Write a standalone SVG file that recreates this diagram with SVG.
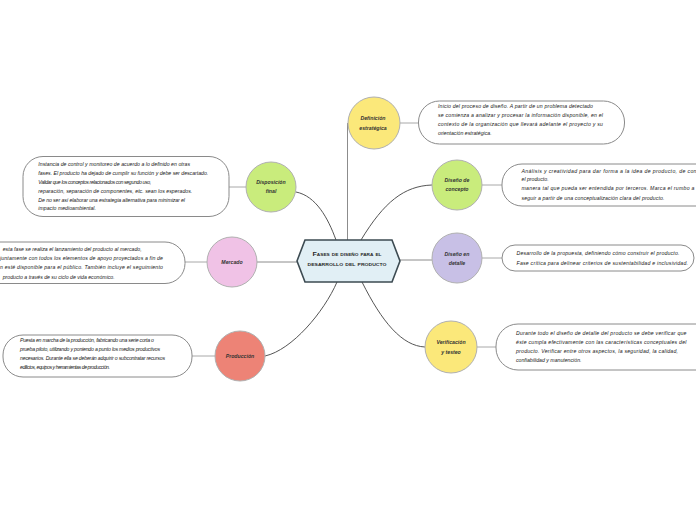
<svg xmlns="http://www.w3.org/2000/svg" width="696" height="520" viewBox="0 0 696 520">
<style>
.bg{fill:#ffffff}
.box{fill:#ffffff;stroke:#8a8a8a;stroke-width:1}
.circ{stroke:#b0b0b0;stroke-width:1}
.yellow{fill:#fbe87a}
.green{fill:#c9ec7c}
.lav{fill:#c8c0e6}
.pink{fill:#f0c2e6}
.salmon{fill:#ed8376}
.hex{fill:#e1eff5;stroke:#3d4b52;stroke-width:1.6}
.link{fill:none;stroke:#555;stroke-width:1}
.slink{fill:none;stroke:#8c8c8c;stroke-width:1}
.blink{fill:none;stroke:#a8a8a8;stroke-width:1}
.t{font-family:"Liberation Sans",Arial,sans-serif;font-style:italic;font-size:5.2px;fill:#1a1a1a}
.lbl{font-family:"Liberation Sans",Arial,sans-serif;font-style:italic;font-weight:bold;font-size:5.2px;fill:#333;text-anchor:middle}
.title{font-family:"Liberation Sans",Arial,sans-serif;font-variant:small-caps;font-weight:bold;font-size:6px;fill:#2a2a2a;text-anchor:middle}
</style>
<rect class="bg" x="0" y="0" width="696" height="520"/>
<g id="connectors">
<path class="slink" d="M347.5,240 V123"/>
<path class="link" d="M361,240 C384,202 404,186 432,185"/>
<path class="slink" d="M400,260 H432"/>
<path class="link" d="M362,282 C382,322 402,346 425,347"/>
<path class="link" d="M296,192 C316,196 328,218 336,240"/>
<path class="slink" d="M257,262 H297"/>
<path class="link" d="M265,356 C292,350 324,312 337,282"/>
<path class="blink" d="M400,123 H419"/>
<path class="blink" d="M482,185 H502"/>
<path class="blink" d="M482,258 H502"/>
<path class="blink" d="M477,347 H496"/>
<path class="blink" d="M246,187 H229"/>
<path class="blink" d="M207,262 H185"/>
<path class="blink" d="M215,356 H192"/>
</g>
<g id="center">
<polygon class="hex" points="297,261 305,240 392,240 400,261 392,282 305,282"/>
<text class="title" x="347" y="256" textLength="69" lengthAdjust="spacingAndGlyphs">Fases de diseño para el</text>
<text class="title" x="347" y="266" textLength="79" lengthAdjust="spacingAndGlyphs">desarrollo del producto</text>
</g>
<g id="definicion">
<circle class="circ yellow" cx="374" cy="123" r="26"/>
<text class="lbl" x="373" y="120">Definición</text>
<text class="lbl" x="373" y="130">estratégica</text>
</g>
<g id="definicion-text">
<rect class="box" x="418.5" y="101" width="206" height="43" rx="21"/>
<text class="t" x="438" y="107.5" textLength="155">Inicio del proceso de diseño. A partir de un problema detectado</text>
<text class="t" x="438" y="116.5" textLength="165">se comienza a analizar y procesar la información disponible, en el</text>
<text class="t" x="438" y="125.5" textLength="165">contexto de la organización que llevará adelante el proyecto y su</text>
<text class="t" x="438" y="134.5">orientación estratégica.</text>
</g>
<g id="concepto">
<circle class="circ green" cx="457" cy="185" r="25"/>
<text class="lbl" x="457" y="182">Diseño de</text>
<text class="lbl" x="457" y="191">concepto</text>
</g>
<g id="concepto-text">
<rect class="box" x="502" y="164" width="220" height="42" rx="20"/>
<text class="t" x="521.5" y="172.5" textLength="175">Análisis y creatividad para dar forma a la idea de producto, de con</text>
<text class="t" x="521.5" y="181">el producto.</text>
<text class="t" x="521.5" y="190" textLength="173">manera tal que pueda ser entendida por terceros. Marca el rumbo a</text>
<text class="t" x="521.5" y="199.5" textLength="143">seguir a partir de una conceptualización clara del producto.</text>
</g>
<g id="detalle">
<circle class="circ lav" cx="457" cy="258" r="25"/>
<text class="lbl" x="457" y="256">Diseño en</text>
<text class="lbl" x="457" y="264.5">detalle</text>
</g>
<g id="detalle-text">
<rect class="box" x="502" y="245" width="192" height="26" rx="13"/>
<text class="t" x="516.5" y="255" textLength="163">Desarrollo de la propuesta, definiendo cómo construir el producto.</text>
<text class="t" x="516.5" y="264.5" textLength="171.5">Fase crítica para delinear criterios de sustentabilidad e inclusividad.</text>
</g>
<g id="verificacion">
<circle class="circ yellow" cx="451" cy="347" r="26"/>
<text class="lbl" x="451" y="343.5">Verificación</text>
<text class="lbl" x="451" y="353.5">y testeo</text>
</g>
<g id="verificacion-text">
<rect class="box" x="496" y="324" width="230" height="46" rx="22"/>
<text class="t" x="516" y="334.5" textLength="170.5">Durante todo el diseño de detalle del producto se debe verificar que</text>
<text class="t" x="516" y="343.5" textLength="170.5">éste cumpla efectivamente con las características conceptuales del</text>
<text class="t" x="516" y="352.8" textLength="162">producto. Verificar entre otros aspectos, la seguridad, la calidad,</text>
<text class="t" x="516" y="362.3">confiabilidad y manutención.</text>
</g>
<g id="disposicion">
<circle class="circ green" cx="271" cy="187" r="25"/>
<text class="lbl" x="271" y="183.5">Disposición</text>
<text class="lbl" x="271" y="192.5">final</text>
</g>
<g id="disposicion-text">
<rect class="box" x="23" y="156.5" width="206" height="60" rx="20"/>
<text class="t" x="38.3" y="166" textLength="151.7">Instancia de control y monitoreo de acuerdo a lo definido en otras</text>
<text class="t" x="38.3" y="175" textLength="170">fases. El producto ha dejado de cumplir su función y debe ser descartado.</text>
<text class="t" x="38.3" y="184" textLength="113">Validar que los conceptos relacionados con segundo uso,</text>
<text class="t" x="38.3" y="192.8" textLength="154">reparación, separación de componentes, etc. sean los esperados.</text>
<text class="t" x="38.3" y="201.5" textLength="146.7">De no ser así elaborar una estrategia alternativa para minimizar el</text>
<text class="t" x="38.3" y="210">impacto medioambiental.</text>
</g>
<g id="mercado">
<circle class="circ pink" cx="232" cy="262" r="25"/>
<text class="lbl" x="232" y="264">Mercado</text>
</g>
<g id="mercado-text">
<rect class="box" x="-22" y="242" width="207" height="41.5" rx="20"/>
<text class="t" x="2.7" y="251" textLength="139">esta fase se realiza el lanzamiento del producto al mercado,</text>
<text class="t" x="0" y="260" textLength="163">juntamente con todos los elementos de apoyo proyectados a fin de</text>
<text class="t" x="0" y="269" textLength="163">n esté disponible para el público. También incluye el seguimiento</text>
<text class="t" x="2.7" y="278.5" textLength="112">producto a través de su ciclo de vida económico.</text>
</g>
<g id="produccion">
<circle class="circ salmon" cx="240" cy="356" r="25"/>
<text class="lbl" x="240" y="358">Producción</text>
</g>
<g id="produccion-text">
<rect class="box" x="3" y="335" width="189" height="42" rx="20"/>
<text class="t" x="20" y="342" textLength="134">Puesta en marcha de la producción, fabricando una serie corta o</text>
<text class="t" x="20" y="351" textLength="140">prueba piloto, utilizando y poniendo a punto los medios productivos</text>
<text class="t" x="20" y="360" textLength="145">necesarios. Durante ella se deberán adquirir o subcontratar recursos</text>
<text class="t" x="20" y="368.8" textLength="90">edilicios, equipos y herramientas de producción.</text>
</g>
</svg>
